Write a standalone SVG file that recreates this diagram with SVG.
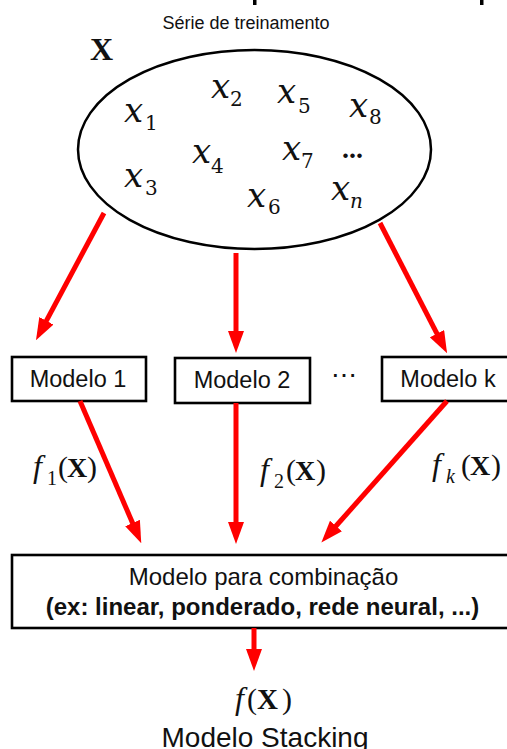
<svg xmlns="http://www.w3.org/2000/svg" width="507" height="749" viewBox="0 0 507 749">
<style>
.box{fill:#fff;stroke:#000;stroke-width:2.6}
.lbl{font-family:"Liberation Sans",Arial,sans-serif;fill:#111;text-anchor:middle}
.var{font-family:"DejaVu Serif",serif;font-style:italic;font-size:34px;fill:#111}
.sub{font-family:"DejaVu Serif",serif;font-size:20px;fill:#111}
.m{font-family:"Liberation Serif","Times New Roman",serif;fill:#111}
.mi{font-style:italic}
.mb{font-weight:bold}
.arr{stroke:#ff0000;stroke-width:5;fill:none;marker-end:url(#ah)}
</style>
<defs>
<marker id="ah" viewBox="0 0 22 16" refX="12" refY="8" markerWidth="22" markerHeight="16" markerUnits="userSpaceOnUse" orient="auto">
<path d="M0,0 L22,8 L0,16 z" fill="#ff0000"/>
</marker>
</defs>
<rect width="507" height="749" fill="#fff"/>
<rect x="253" y="0" width="3.5" height="5" fill="#000"/>
<rect x="480" y="0" width="3.5" height="5" fill="#000"/>
<g id="data">
<text class="lbl" x="246" y="29" font-size="18">Série de treinamento</text>
<text class="m mb" x="90" y="60" font-size="32">X</text>
<ellipse cx="254.5" cy="149.5" rx="176.5" ry="99.5" fill="#fff" stroke="#000" stroke-width="2.5"/>
<text class="var" x="124" y="122">x</text><text class="sub" x="145" y="130">1</text>
<text class="var" x="211" y="98">x</text><text class="sub" x="230" y="106">2</text>
<text class="var" x="277" y="103">x</text><text class="sub" x="298" y="113">5</text>
<text class="var" x="349" y="117">x</text><text class="sub" x="369" y="124">8</text>
<text class="var" x="192" y="163">x</text><text class="sub" x="211" y="173">4</text>
<text class="var" x="282" y="160">x</text><text class="sub" x="301" y="168">7</text>
<text class="m mb" x="342" y="158" font-size="28">...</text>
<text class="var" x="124" y="187">x</text><text class="sub" x="145" y="195">3</text>
<text class="var" x="247" y="207">x</text><text class="sub" x="268" y="214">6</text>
<text class="var" x="331" y="200">x</text><text class="sub" x="350" y="208" font-style="italic">n</text>
</g>
<g id="model1">
<rect class="box" x="12" y="357" width="134" height="44"/>
<text class="lbl" x="78" y="387" font-size="23.5">Modelo 1</text>
</g>
<g id="model2">
<rect class="box" x="175" y="358" width="135" height="45"/>
<text class="lbl" x="242" y="388" font-size="23.5">Modelo 2</text>
</g>
<text class="lbl" x="343.5" y="384" font-size="26" font-family="DejaVu Sans">⋯</text>
<g id="modelk">
<rect class="box" x="382" y="357" width="135" height="44"/>
<text class="lbl" x="448" y="387" font-size="23.5">Modelo k</text>
</g>
<g id="combiner">
<rect class="box" x="12" y="555" width="505" height="73" stroke-width="3"/>
<text class="lbl" x="263.5" y="585" font-size="24">Modelo para combinação</text>
<text class="lbl" x="262.5" y="615" font-size="24" font-weight="bold">(ex: linear, ponderado, rede neural, ...)</text>
</g>
<g id="output">
<text class="m mi" x="235" y="709" font-size="32">f</text>
<text class="m" x="247" y="709" font-size="30">(</text>
<text class="m mb" x="257" y="709" font-size="29">X</text>
<text class="m" x="282" y="709" font-size="30">)</text>
<text class="lbl" x="265" y="747" font-size="28">Modelo Stacking</text>
</g>
<g id="edge-labels">
<text class="m mi" x="33" y="477" font-size="32">f</text><text class="m" x="47" y="485" font-size="20">1</text><text class="m" x="58" y="477" font-size="30">(</text><text class="m mb" x="67" y="477" font-size="28">X</text><text class="m" x="87" y="477" font-size="30">)</text>
<text class="m mi" x="260" y="480" font-size="32">f</text><text class="m" x="274" y="488" font-size="20">2</text><text class="m" x="286" y="480" font-size="30">(</text><text class="m mb" x="295" y="480" font-size="28">X</text><text class="m" x="316" y="480" font-size="30">)</text>
<text class="m mi" x="432" y="475" font-size="32">f</text><text class="m mi" x="446" y="483" font-size="20">k</text><text class="m" x="461" y="475" font-size="30">(</text><text class="m mb" x="470" y="475" font-size="28">X</text><text class="m" x="491" y="475" font-size="30">)</text>
</g>
<g id="connectors">
<line class="arr" x1="104" y1="213" x2="40.7" y2="331.4"/>
<line class="arr" x1="236" y1="253" x2="236" y2="343"/>
<line class="arr" x1="380" y1="223" x2="442.5" y2="344.3"/>
<line class="arr" x1="80" y1="401" x2="137.3" y2="534"/>
<line class="arr" x1="236" y1="403" x2="236" y2="534"/>
<line class="arr" x1="447" y1="401" x2="328" y2="535"/>
<line class="arr" x1="254" y1="628" x2="254" y2="661"/>
</g>
</svg>
